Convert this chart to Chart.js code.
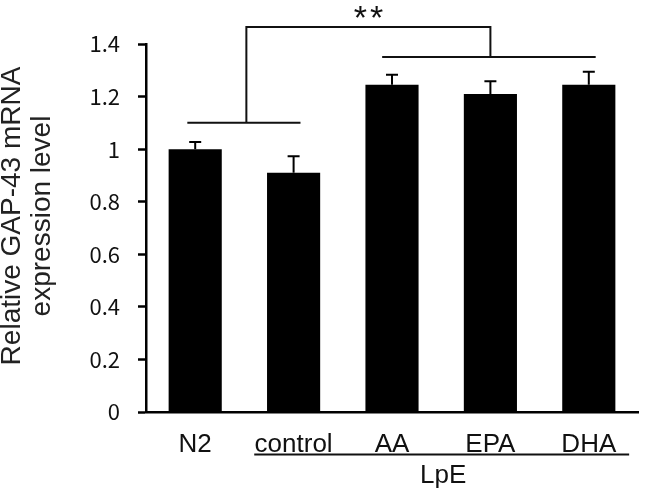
<!DOCTYPE html>
<html><head><meta charset="utf-8">
<script src="https://cdn.jsdelivr.net/npm/chart.js@4/dist/chart.umd.min.js"></script>
<style>html,body{margin:0;padding:0;background:#fff}#wrap{width:670px;height:496px}</style>
</head><body><div id="wrap"><canvas id="c" width="670" height="496"></canvas></div>
<script>
const categories = ['N2', 'control', 'AA', 'EPA', 'DHA'];
const meanValues = [1.0, 0.91, 1.245, 1.21, 1.245];
const errorValues = [0.027, 0.063, 0.038, 0.048, 0.049];
const yTickLabels = ['0', '0.2', '0.4', '0.6', '0.8', '1', '1.2', '1.4'];
const yAxisTitle = ['Relative GAP-43 mRNA', 'expression level'];
const groupLabel = 'LpE';
const significanceLabel = '**';

const TEXT_FONT = '"Liberation Sans", Arial, sans-serif';

const errorBarPlugin = {
  id: 'errorBars',
  afterDatasetsDraw(chart) {
    const ctx = chart.ctx;
    const y = chart.scales.y;
    const meta = chart.getDatasetMeta(0);
    ctx.save();
    ctx.strokeStyle = '#000';
    ctx.lineWidth = 2;
    meta.data.forEach((bar, i) => {
      const top = y.getPixelForValue(meanValues[i] + errorValues[i]);
      ctx.beginPath();
      ctx.moveTo(bar.x, bar.y);
      ctx.lineTo(bar.x, top);
      ctx.moveTo(bar.x - 6, top);
      ctx.lineTo(bar.x + 6, top);
      ctx.stroke();
    });
    ctx.restore();
  }
};

const annotationPlugin = {
  id: 'annotations',
  afterDraw(chart) {
    const ctx = chart.ctx;
    const x = chart.scales.x, y = chart.scales.y;
    const px = v => x.getPixelForValue(v);
    const py = v => y.getPixelForValue(v);
    ctx.save();
    ctx.strokeStyle = '#111';
    ctx.lineWidth = 2;
    ctx.beginPath();
    ctx.moveTo(px(-0.08), py(1.1)); ctx.lineTo(px(1.07), py(1.1));
    ctx.moveTo(px(1.9), py(1.351)); ctx.lineTo(px(4.07), py(1.351));
    ctx.moveTo(px(0.52), py(1.1)); ctx.lineTo(px(0.52), py(1.465));
    ctx.lineTo(px(3.0), py(1.465)); ctx.lineTo(px(3.0), py(1.351));
    ctx.stroke();
    ctx.beginPath();
    ctx.moveTo(px(0.6), 454.5); ctx.lineTo(px(4.41), 454.5);
    ctx.stroke();
    ctx.fillStyle = '#111';
    ctx.textAlign = 'center';
    ctx.textBaseline = 'alphabetic';
    ctx.font = '26px ' + TEXT_FONT;
    ctx.fillText(groupLabel, px(2.52), 483);
    ctx.font = '34px ' + TEXT_FONT;
    ctx.letterSpacing = '3px';
    ctx.fillText(significanceLabel, px(1.76) + 1.5, 29);
    ctx.letterSpacing = '0px';
    ctx.font = '28px ' + TEXT_FONT;
    ctx.fillStyle = '#222';
    [[20, yAxisTitle[0]], [50, yAxisTitle[1]]].forEach(([bx, t]) => {
      ctx.save();
      ctx.translate(bx, 216);
      ctx.rotate(-Math.PI / 2);
      ctx.fillText(t, 0, 0);
      ctx.restore();
    });
    ctx.restore();
  }
};

new Chart(document.getElementById('c'), {
  type: 'bar',
  data: {
    labels: categories,
    datasets: [{
      data: meanValues,
      backgroundColor: '#000',
      borderWidth: 0,
      barPercentage: 0.54,
      categoryPercentage: 1.0
    }]
  },
  options: {
    responsive: false,
    maintainAspectRatio: false,
    devicePixelRatio: 1,
    animation: false,
    layout: { padding: { top: 44, right: 32, bottom: 0, left: 0 } },
    plugins: { legend: { display: false }, tooltip: { enabled: false } },
    scales: {
      x: {
        grid: { display: false },
        border: { display: true, color: '#000', width: 2.5 },
        ticks: { color: '#111', font: { family: TEXT_FONT, size: 26 }, padding: 9, maxRotation: 0, autoSkip: false },
        afterFit(s) { s.height = 84; }
      },
      y: {
        min: 0, max: 1.4,
        ticks: {
          stepSize: 0.2,
          color: '#111',
          padding: 18,
          font: { family: '"Noto Sans CJK JP", "Noto Sans", sans-serif', size: 22 },
          callback: (v, i) => yTickLabels[i]
        },
        grid: { display: true, drawOnChartArea: false, drawTicks: true, tickLength: 8, tickWidth: 2.5, tickColor: '#000' },
        border: { display: true, color: '#000', width: 2.5 },
        afterFit(s) { s.width = 146; }
      }
    }
  },
  plugins: [errorBarPlugin, annotationPlugin]
});
</script>
</body></html>
